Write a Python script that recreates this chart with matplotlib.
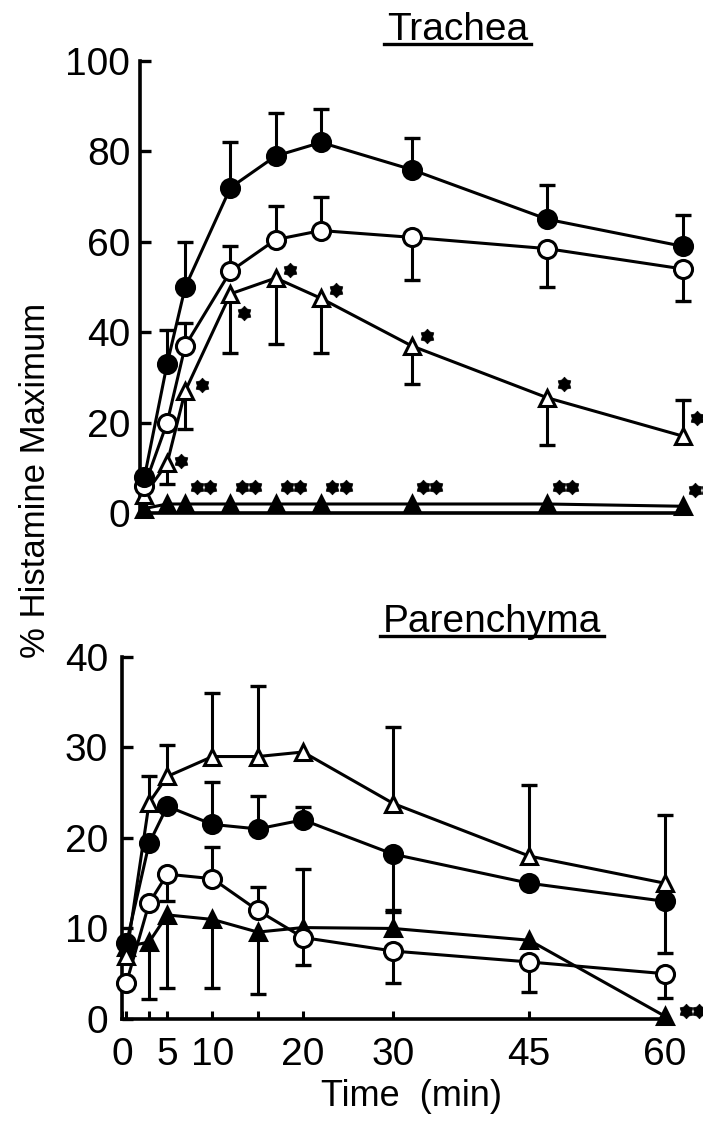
import numpy as np
import matplotlib
matplotlib.use("Agg")
import matplotlib.pyplot as plt
from matplotlib import transforms
from matplotlib.lines import Line2D
from matplotlib.path import Path

plt.rcParams['font.family'] = ['Liberation Sans', 'DejaVu Sans']

nan = np.nan
times = [0.5, 3, 5, 10, 15, 20, 30, 45, 60]

# Trachea (% histamine maximum); *_err = end of the drawn error bar
tr_closed_circle = [8, 33, 50, 72, 79, 82, 76, 65, 59]
tr_closed_circle_err = [nan, 40.5, 60, 82, 88.5, 89.5, 83, 72.5, 66]
tr_open_circle = [6, 20, 37, 53.5, 60.5, 62.5, 61, 58.5, 54]
tr_open_circle_err = [nan, nan, 42, 59, 68, 70, 51.5, 50, 47]
tr_open_tri = [4, 11, 27, 48.5, 52, 47.5, 37, 25.5, 17]
tr_open_tri_err = [nan, 6.5, 18.5, 35.5, 37.5, 35.5, 28.5, 15, 25]
tr_closed_tri = [1, 2, 2, 2, 2, 2, 2, 2, 1.5]

# Parenchyma
pa_closed_circle = [8.4, 19.4, 23.5, 21.5, 21, 22, 18.2, 15, 13]
pa_closed_circle_err = [nan, nan, nan, 26.2, 24.6, 23.4, 12, nan, 7.3]
pa_open_tri = [7, 23.9, 26.8, 29, 29, 29.5, 23.8, 18, 15]
pa_open_tri_err = [nan, 26.9, 30.3, 36, 36.8, nan, 32.3, 25.8, 22.5]
pa_open_circle = [4, 12.8, 16, 15.5, 12, 9, 7.5, 6.3, 5]
pa_open_circle_err = [nan, nan, 13, 19, 14.6, 6, 4, 3, 2.3]
pa_closed_tri = [8, 8.5, 11.5, 11, 9.6, 10.1, 10, 8.7, 0.3]
pa_closed_tri_err = [nan, 2.2, 3.4, 3.4, 2.8, 16.6, 11.8, nan, nan]

fig = plt.figure(figsize=(7.03, 11.48), dpi=100)
ax1 = fig.add_axes([0.1991, 0.5531, 0.7752, 0.3937])
ax2 = fig.add_axes([0.1735, 0.1124, 0.7763, 0.3153])

LW = 2.2

# six-pointed blob used for the significance marks
ang = np.linspace(np.pi / 2, np.pi / 2 + 2 * np.pi, 13)
rad = np.where(np.arange(13) % 2 == 0, 1.0, 0.72)
star_path = Path(np.column_stack([rad * np.cos(ang), rad * np.sin(ang)]),
                 closed=True)


def draw_series(ax, y, marker, filled, err=None, ms=13):
    ax.plot(times, y, color='k', lw=LW, marker=marker, ms=ms,
            mfc='k' if filled else 'white', mec='k', mew=2.2,
            zorder=3, clip_on=False)
    if err is None:
        return
    for t, v, e in zip(times, y, err):
        if np.isnan(e):
            continue
        ax.plot([t, t], [v, e], color='k', lw=LW, zorder=2, clip_on=False)
        ax.plot([t], [e], marker='_', ms=11, mew=2.4, color='k',
                zorder=2, clip_on=False)


def star(ax, t, v, dx, dy, n=1):
    for k in range(n):
        off = dx + (k - (n - 1) / 2) * 9.5
        tr = transforms.offset_copy(ax.transData, fig=fig, x=off, y=dy,
                                    units='points')
        ax.plot([t], [v], marker=star_path, ms=10.5, color='k', mec='k',
                mew=0.5, transform=tr, clip_on=False, zorder=4)


# Trachea panel
draw_series(ax1, tr_closed_tri, '^', True, ms=12)
draw_series(ax1, tr_open_tri, '^', False, tr_open_tri_err, ms=12)
draw_series(ax1, tr_open_circle, 'o', False, tr_open_circle_err)
draw_series(ax1, tr_closed_circle, 'o', True, tr_closed_circle_err)

star_offsets = [(10, 2), (12, 4), (10, -14), (10, 6), (11, 6), (11, 7), (12, 10), (10, 13)]
for i, (dx, dy) in enumerate(star_offsets, start=1):
    star(ax1, times[i], tr_open_tri[i], dx, dy)
for i in range(2, 9):
    star(ax1, times[i], tr_closed_tri[i], 13, 12, n=2)

# Parenchyma panel
draw_series(ax2, pa_closed_tri, '^', True, pa_closed_tri_err, ms=12)
draw_series(ax2, pa_open_circle, 'o', False, pa_open_circle_err)
draw_series(ax2, pa_closed_circle, 'o', True, pa_closed_circle_err)
draw_series(ax2, pa_open_tri, '^', False, pa_open_tri_err, ms=12)
star(ax2, times[-1], pa_closed_tri[-1], 20, 4, n=2)

for ax in (ax1, ax2):
    for side in ('top', 'right'):
        ax.spines[side].set_visible(False)
    for side in ('left', 'bottom'):
        ax.spines[side].set_linewidth(2.6)
    ax.tick_params(axis='y', direction='in', length=8, width=2.4,
                   labelsize=28, pad=7)
    ax.tick_params(axis='x', direction='in', length=6, width=2.2,
                   labelsize=28, pad=13)
    ax.tick_params(which='minor', direction='in', length=6, width=2.2)

ax1.set_xlim(0, 60.2)
ax1.set_ylim(0, 100)
ax1.set_yticks([0, 20, 40, 60, 80, 100])
ax1.set_xticks(times)
ax1.set_xticklabels([])

ax2.set_xlim(0, 60.3)
ax2.set_ylim(0, 40)
ax2.set_yticks([0, 10, 20, 30, 40])
ax2.set_xticks([0, 5, 10, 20, 30, 45, 60])
ax2.set_xticks([0.5, 3, 15], minor=True)
ax2.tick_params(axis='y', pad=10)

fig.text(0.05, 1 - 480 / 1148, '% Histamine Maximum', rotation=90,
         fontsize=25, ha='center', va='center')
fig.text(0.585, 1 - 1097 / 1148, 'Time  (min)', fontsize=26,
         ha='center', va='center')

titles = [('Trachea', 0.651, 1 - 40 / 1148), ('Parenchyma', 0.70, 1 - 632 / 1148)]
fig.canvas.draw()
for label, x, y in titles:
    t = fig.text(x, y, label, fontsize=28, ha='center', va='baseline')
    fig.canvas.draw()
    bb = t.get_window_extent().transformed(fig.transFigure.inverted())
    yl = y - 4 / 1148
    fig.add_artist(Line2D([bb.x0 - 0.004, bb.x1 + 0.004], [yl, yl],
                          color='k', lw=2.4, transform=fig.transFigure))

fig.savefig('out.png', dpi=100)
